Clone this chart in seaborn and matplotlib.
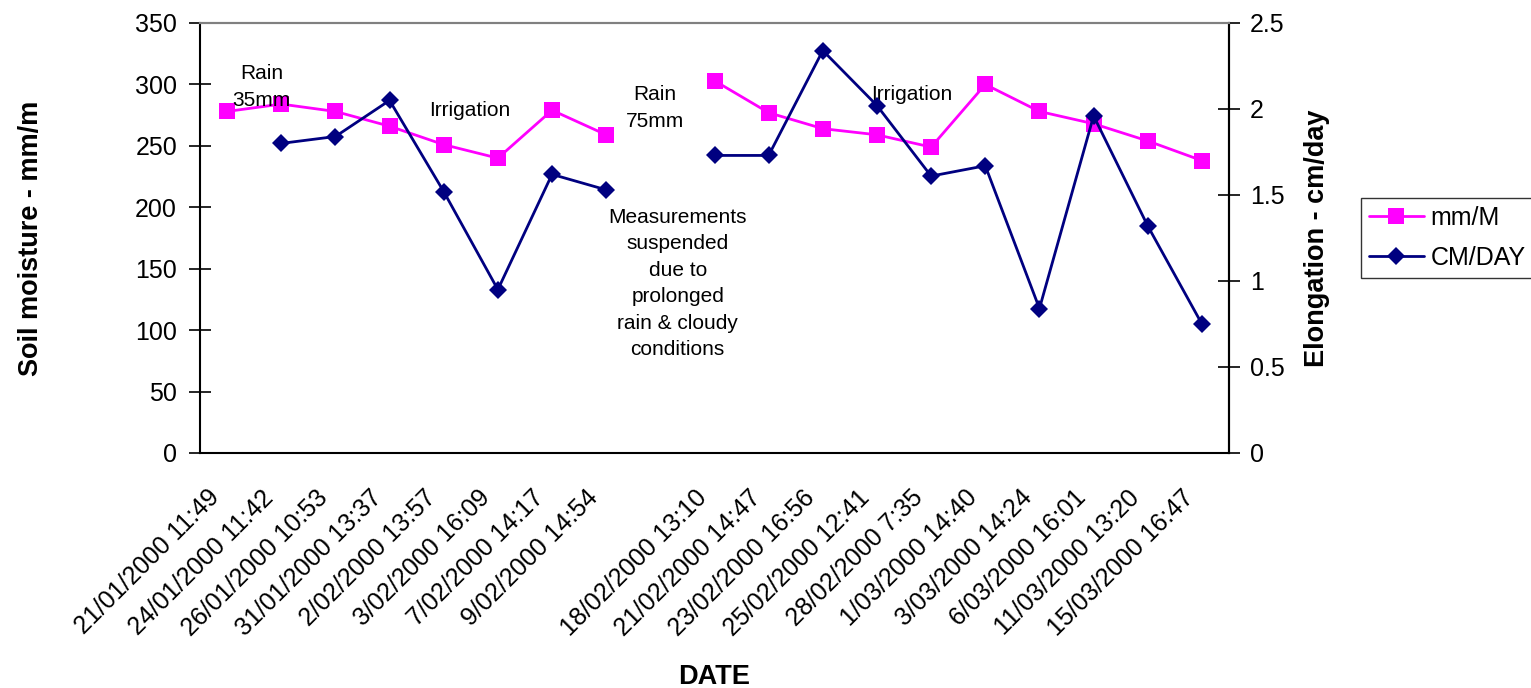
import numpy as np
import pandas as pd
import matplotlib
matplotlib.use("Agg")
import matplotlib.pyplot as plt
import matplotlib.transforms as mtransforms
import seaborn as sns

sns.set_theme(style="white", rc={'text.color': 'black', 'axes.labelcolor': 'black',
                                 'xtick.color': 'black', 'ytick.color': 'black'})
plt.rcParams['font.family'] = ['Liberation Sans', 'DejaVu Sans']

# x categories (one blank slot where measurements were suspended)
dates = ['21/01/2000 11:49', '24/01/2000 11:42', '26/01/2000 10:53', '31/01/2000 13:37',
         '2/02/2000 13:57', '3/02/2000 16:09', '7/02/2000 14:17', '9/02/2000 14:54', '',
         '18/02/2000 13:10', '21/02/2000 14:47', '23/02/2000 16:56', '25/02/2000 12:41',
         '28/02/2000 7:35', '1/03/2000 14:40', '3/03/2000 14:24', '6/03/2000 16:01',
         '11/03/2000 13:20', '15/03/2000 16:47']

# soil moisture, mm/M (left axis)
mm_m = [278, 284, 278, 266, 251, 240, 279, 259, np.nan,
        303, 277, 264, 259, 249, 300, 278, 268, 254, 238]

# elongation, CM/DAY (right axis)
cm_day = [np.nan, 1.80, 1.84, 2.05, 1.52, 0.95, 1.62, 1.53, np.nan,
          1.73, 1.73, 2.34, 2.02, 1.61, 1.67, 0.84, 1.96, 1.32, 0.75]

segment = [1] * 9 + [2] * 10

df = pd.DataFrame({'pos': np.arange(len(dates)), 'mm_m': mm_m,
                   'cm_day': cm_day, 'segment': segment})

fig = plt.figure(figsize=(15.31, 6.88), dpi=100)
ax = fig.add_axes([200 / 1531, 1 - 453 / 688, 1029 / 1531, 430 / 688])
ax2 = ax.twinx()

sns.lineplot(data=df, x='pos', y='mm_m', units='segment', estimator=None,
             color='#FF00FF', marker='s', markersize=11, markeredgewidth=0,
             linewidth=2, ax=ax)
sns.lineplot(data=df, x='pos', y='cm_day', units='segment', estimator=None,
             color='#000080', marker='D', markersize=9, markeredgewidth=0,
             linewidth=2, ax=ax2)

ax.set_xlim(-0.5, len(dates) - 0.5)
ax.set_ylim(0, 350)
ax2.set_ylim(0, 2.5)
ax.set_yticks(np.arange(0, 351, 50))
ax2.set_yticks([0, 0.5, 1, 1.5, 2, 2.5])
ax2.set_yticklabels(['0', '0.5', '1', '1.5', '2', '2.5'])

# tick marks on category boundaries, labels on centres
ax.set_xticks(np.arange(-0.5, len(dates), 1))
ax.set_xticklabels([])
ax.set_xticks(np.arange(len(dates)), minor=True)
ax.set_xticklabels(dates, minor=True, rotation=45, ha='right',
                   rotation_mode='anchor', fontsize=18)
ax.tick_params(axis='x', which='major', direction='inout', length=16, width=1.2, color='black')
ax.tick_params(axis='x', which='minor', length=0, pad=14)
ax.tick_params(axis='y', direction='inout', length=16, width=1.2, color='black',
               labelsize=18, pad=8.5, left=True)
ax2.tick_params(axis='y', direction='inout', length=16, width=1.2, color='black',
                labelsize=18, pad=7, right=True)

# nudge the rotated date labels (after tick_params, which resets transforms)
shift = mtransforms.ScaledTranslation(-0.20, -0.13, fig.dpi_scale_trans)
for lab in ax.get_xticklabels(minor=True):
    lab.set_transform(lab.get_transform() + shift)

for a in (ax, ax2):
    for s in a.spines.values():
        s.set_linewidth(1.5)
        s.set_color('black')
    a.spines['top'].set_color('#808080')
ax2.spines['left'].set_visible(False)
ax2.spines['bottom'].set_visible(False)

ax.set_xlabel('DATE', fontsize=19.5, fontweight='bold')
ax.xaxis.set_label_coords(0.5, -0.49)
ax.set_ylabel('Soil moisture - mm/m', fontsize=19.5, fontweight='bold')
ax.yaxis.set_label_coords(-0.152, 0.5)
ax2.set_ylabel('Elongation - cm/day', fontsize=19.5, fontweight='bold')
ax2.yaxis.set_label_coords(1.073, 0.5)

ann = dict(fontsize=15, ha='center', va='center', linespacing=1.5)
ax.text(0.64, 298, 'Rain\n35mm', **ann)
ax.text(4.48, 279, 'Irrigation', **ann)
ax.text(7.9, 281, 'Rain\n75mm', **ann)
ax.text(8.32, 138, 'Measurements\nsuspended\ndue to\nprolonged\nrain & cloudy\nconditions', **ann)
ax.text(12.64, 292, 'Irrigation', **ann)

h1 = ax.get_lines()[0]
h2 = ax2.get_lines()[0]
leg = fig.legend([h1, h2], ['mm/M', 'CM/DAY'], loc='center left',
                 bbox_to_anchor=(1361 / 1531, 1 - 238 / 688), borderaxespad=0,
                 fontsize=18, frameon=True, fancybox=False, edgecolor='black',
                 handlelength=2.2, borderpad=0.3, labelspacing=0.65, handletextpad=0.28)
leg.get_frame().set_linewidth(1)

fig.savefig('out.png', dpi=100)
